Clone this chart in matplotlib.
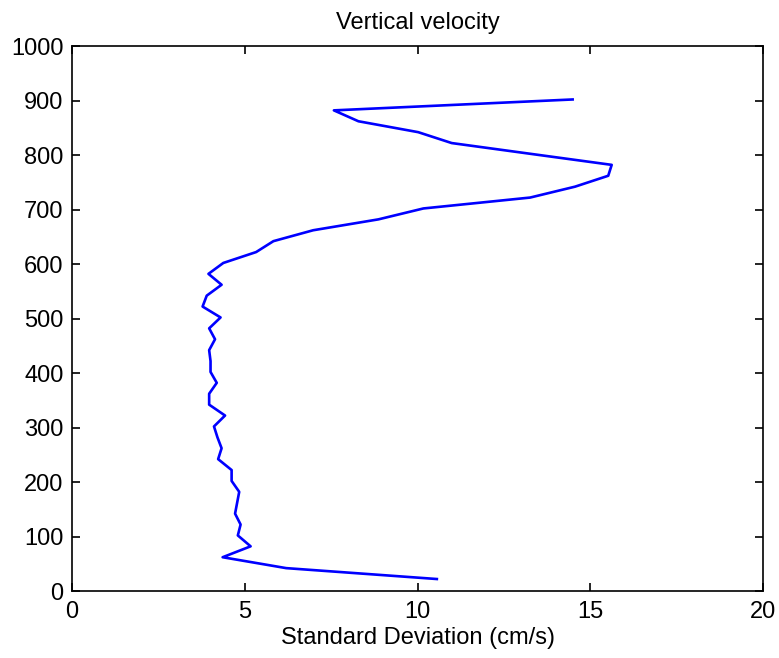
import matplotlib
matplotlib.use('Agg')
import matplotlib.pyplot as plt

# depth (m) and standard deviation of vertical velocity (cm/s)
depth = [22, 42, 62, 82, 102, 122, 142, 162, 182, 202, 222, 242, 262, 282,
         302, 322, 342, 362, 382, 402, 422, 442, 462, 482, 502, 522, 542,
         562, 582, 602, 622, 642, 662, 682, 702, 722, 742, 762, 782, 802,
         822, 842, 862, 882, 902]
std_w = [10.56, 6.2, 4.36, 5.17, 4.80, 4.88, 4.72, 4.78, 4.84, 4.62, 4.62,
         4.23, 4.33, 4.21, 4.11, 4.43, 3.97, 3.97, 4.19, 4.01, 4.01, 3.97,
         4.14, 3.97, 4.30, 3.78, 3.90, 4.33, 3.95, 4.38, 5.33, 5.83, 6.98,
         8.87, 10.17, 13.26, 14.56, 15.52, 15.62, 13.3, 10.99, 10.02, 8.29,
         7.58, 14.49]

plt.rcParams['font.family'] = ['Liberation Sans', 'DejaVu Sans']

fig = plt.figure(figsize=(7.79, 6.58), dpi=100)
ax = fig.add_axes([0.0924, 0.1018, 0.8871, 0.8282])
ax.plot(std_w, depth, color='#0000ff', lw=1.9)

ax.set_xlim(0, 20)
ax.set_ylim(0, 1000)
ax.set_xticks([0, 5, 10, 15, 20])
ax.set_yticks(range(0, 1001, 100))
ax.tick_params(direction='in', length=6, width=1.2, top=True, right=True,
               labelsize=17)
ax.tick_params(axis='x', pad=7)
ax.tick_params(axis='y', pad=6)
for s in ax.spines.values():
    s.set_linewidth(1.2)

ax.set_title('Vertical velocity', fontsize=17, pad=12)
ax.set_xlabel('Standard Deviation (cm/s)', fontsize=17, labelpad=3)

fig.savefig('out.png', dpi=100)
